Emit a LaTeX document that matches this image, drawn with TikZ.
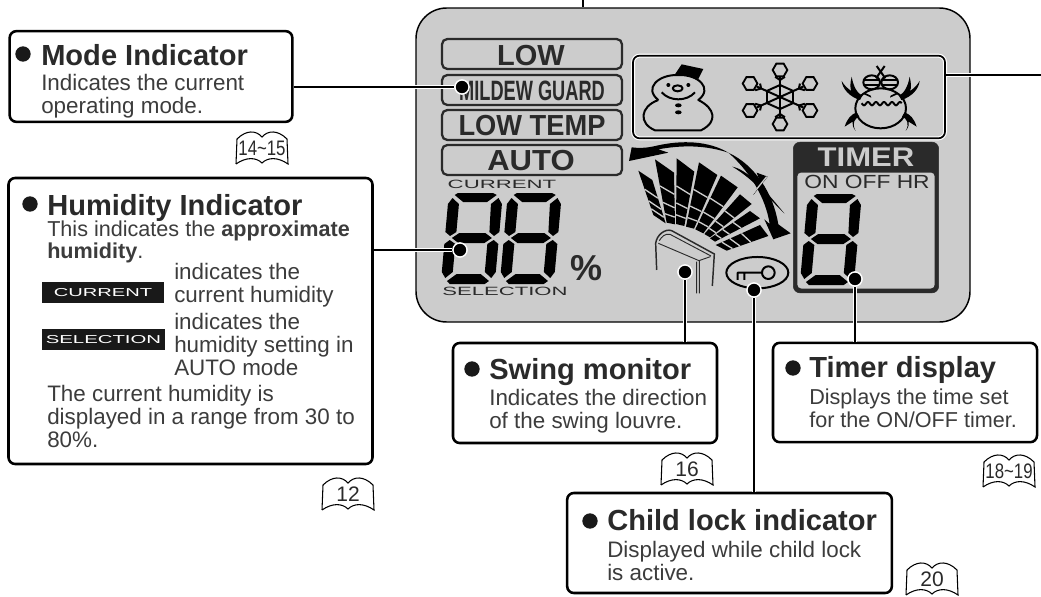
\documentclass[tikz,border=0pt]{standalone}
\usepackage{fontspec}
\setmainfont{Liberation Sans}
\usetikzlibrary{calc,shapes.geometric}
\definecolor{lcdgray}{HTML}{CCCCCC}
\definecolor{inkgray}{HTML}{2A2A2A}
\definecolor{bodygray}{HTML}{3C3C3C}
\newcommand{\fpx}[1]{\pgfmathsetmacro\fpxsize{#1*.75}\fontsize{\fpxsize}{\fpxsize}\selectfont}
\newcommand{\headfont}{\fontsize{21.8}{24}\selectfont\bfseries}
\newcommand{\bodyfont}{\fontsize{16.8}{17}\selectfont}
\newcommand{\tightfont}{\fontsize{16.2}{16}\selectfont}
\newcommand{\segdigit}[2]{%
\begin{scope}[shift={(#1,#2)},xslant=.09]
\fill (9,1)--(44,1)--(48,3)--(39,10)--(15,10)--(6,3)--cycle
 (50,6)--(54,12)--(54,40)--(49,44)--(44,40)--(43,12)--cycle
 (4,6)--(11,12)--(11,40)--(5,44)--(0,40)--(0,12)--cycle
 (7,46)--(14,41)--(40,41)--(47,46)--(40,51)--(14,51)--cycle
 (0,52)--(5,48)--(11,52)--(11,80)--(4,86)--(0,80)--cycle
 (49,48)--(54,52)--(54,80)--(50,86)--(43,80)--(43,52)--cycle
 (6,89)--(15,82)--(39,82)--(48,89)--(44,92)--(9,92)--cycle;
\end{scope}}
\newcommand{\pagemark}[5]{%
\draw[bookline] (#2,#3+33) -- (#2+1,#3+8) .. controls (#2+10,#3-1) and (#2+20,#3-1) .. (#2+26,#3+6)
 .. controls (#2+32,#3-1) and (#2+42,#3-1) .. (#2+51,#3+8) -- (#2+52,#3+33)
 .. controls (#2+42,#3+26) and (#2+32,#3+26) .. (#2+26,#3+32)
 .. controls (#2+20,#3+26) and (#2+10,#3+26) .. (#2,#3+33);
\node[booktext,xscale=#5] (#1) at (#2+26,#3+17) {#4};}
\begin{document}
\begin{tikzpicture}[x=.75pt,y=-.75pt]
\tikzset{
 panel/.style={draw, fill=white, line width=1.9pt, rounded corners=5pt, inner sep=0pt},
 modebox/.style={draw=inkgray, line width=1.7pt, rounded corners=4pt, inner sep=0pt, minimum width=135pt, minimum height=22.5pt},
 modetext/.style={font=\fpx{29}\bfseries, text=inkgray, anchor=base, inner sep=0pt},
 headtext/.style={font=\headfont, text=inkgray, anchor=base west, inner sep=0pt},
 bodytext/.style={font=\bodyfont, text=bodygray, anchor=base west, inner sep=0pt, align=left},
 tagbox/.style={fill=black!90, text=white, inner sep=0pt, minimum width=92pt, minimum height=16pt},
 wire/.style={line width=1.9pt, preaction={draw=white, line width=3.6pt}},
 tipdot/.style={circle, fill=black, draw=white, line width=1pt, minimum size=10.5pt, inner sep=0pt},
 bulletdot/.style={circle, fill=black!90, minimum size=11.5pt, inner sep=0pt},
 bookline/.style={line width=.8pt, fill=white},
 booktext/.style={font=\fpx{21}, text=inkgray, inner sep=0pt},
 fangap/.style={draw=lcdgray, line width=1pt},
 iconline/.style={line width=1.5pt, line join=round},
 flakehex/.style={regular polygon, regular polygon sides=6, draw, line width=1.4pt, minimum size=11pt, inner sep=0pt},
 lcdlabel/.style={font=\fpx{12}, text=inkgray, anchor=base, inner sep=0pt}
}
\useasboundingbox (0,0) rectangle (1041,596);
\node[draw, fill=lcdgray, line width=1.1pt, rounded corners=23pt, minimum width=415.5pt, minimum height=235.5pt, inner sep=0pt] (lcd) at (693,165) {};
\coordinate (topedge) at (583,0);
\coordinate (rightedge) at (1041,75);
\draw[line width=1.9pt] (topedge) -- (topedge |- lcd.north);

\node[modebox] (lowbox) at (532,54) {};
\node[modebox] (mildewbox) at (532,90) {};
\node[modebox] (lowtempbox) at (532,125) {};
\node[modebox] (autobox) at (532,160) {};
\node[modetext] (lowtext) at (531,65) {LOW};
\node[modetext, font=\fpx{28}\bfseries, xscale=.65] (mildewtext) at (532,100) {MILDEW GUARD};
\node[modetext, xscale=.94] (lowtemptext) at (532,135) {LOW TEMP};
\node[modetext, xscale=1.07] (autotext) at (531,170) {AUTO};

\node[lcdlabel, xscale=1.85] (currentlabel) at (502,188) {CURRENT};
\node[lcdlabel, xscale=1.84] (selectionlabel) at (505,295) {SELECTION};
\segdigit{449}{192}
\segdigit{508}{192}
\node[font=\fpx{36}\bfseries, text=inkgray, anchor=base, inner sep=0pt] (percentlabel) at (586,280) {\%};

\node[draw, line width=1.3pt, rounded corners=5pt, minimum width=234pt, minimum height=62pt, inner sep=0pt, preaction={draw=white, line width=3pt}] (iconbox) at (789,97) {};
\begin{scope}[shift={(635,55)},scale=.3333]
\fill (120,58)--(140,28)--(205,42)--(190,72) .. controls (165,62) and (140,58) .. (120,58);
\draw[iconline] (70,135) .. controls (25,100) and (70,58) .. (130,60) .. controls (190,58) and (235,100) .. (190,135)
 .. controls (240,160) and (250,200) .. (198,226) -- (60,226) .. controls (10,205) and (15,155) .. (70,135);
\draw[iconline] (80,112) .. controls (105,140) and (155,140) .. (180,112);
\draw[iconline] (128,100) ellipse (15 and 9);
\fill (100,90) circle (6) (160,90) circle (6) (130,151) ellipse (10 and 6) (130,172) ellipse (10 and 6);
\end{scope}
\begin{scope}[shift={(780,97)},xscale=1.28]
\foreach \ang in {30,90,...,330}{
 \draw[iconline] (0,0) -- (\ang:21);
 \draw[iconline] (\ang:12) -- (\ang+60:12);
 \draw[iconline] (\ang:17) -- +(\ang+50:5) (\ang:17) -- +(\ang-50:5);
 \node[flakehex, rotate=\ang+30] (flake\ang) at (\ang:27) {};
}
\end{scope}
\begin{scope}[shift={(790,55)},scale=.3333]
\foreach \s in {1,-1}{
\begin{scope}[shift={(272,0)},xscale=\s]
 \fill (-117,78) .. controls (-115,100) and (-95,125) .. (-62,135) -- (-55,122) .. controls (-70,115) and (-82,95) .. (-87,65)
  .. controls (-92,85) and (-92,100) .. (-88,108) .. controls (-100,100) and (-110,90) .. (-117,78);
 \fill (-108,215) .. controls (-100,190) and (-88,178) .. (-72,172) -- (-64,185) .. controls (-78,190) and (-88,205) .. (-75,228)
  .. controls (-85,215) and (-85,208) .. (-84,200) .. controls (-92,205) and (-100,210) .. (-108,215);
 \draw[iconline] (-12,33) -- (14,70);
 \draw[iconline] (-27,82) ellipse (25 and 21);
 \draw[iconline] (-50,76) -- (-4,76) (-50,90) -- (-4,90);
 \fill (-50,118) -- (-28,128) -- (-30,122) -- (-50,112) -- cycle;
\end{scope}}
\draw[iconline] (272,160) ellipse (76 and 60);
\draw[iconline] plot[domain=215:335, samples=60, smooth] (\x,{146+5*sin(\x*15)});
\end{scope}

\begin{scope}[shift={(625,130)},scale=.3333]
\foreach \ax/\ay/\bx/\by/\cx/\cy/\dx/\dy in {40/122/82/150/122/280/85/255, 90/88/147/128/150/283/125/278, 155/85/208/125/178/288/153/282, 222/97/277/135/207/296/183/290, 288/137/338/172/235/310/211/298, 345/193/380/222/255/322/238/312, 375/243/405/265/270/335/255/325, 405/285/430/318/305/362/272/345}{
 \fill (\ax,\ay) -- (\bx,\by) -- (\cx,\cy) -- (\dx,\dy) -- cycle;
 \foreach \f in {.42,.68,.86}
  \draw[fangap] ($(\ax,\ay)!\f!(\dx,\dy)$) -- ($(\bx,\by)!\f!(\cx,\cy)$);
}
\fill (12,93) -- (20,52) .. controls (50,56) and (75,52) .. (95,47) .. controls (170,30) and (250,32) .. (310,68)
 .. controls (240,45) and (170,45) .. (100,58) -- (130,68) -- cycle;
\fill (497,310) -- (445,328) -- (418,268) -- (434,282) .. controls (422,200) and (370,120) .. (310,68)
 .. controls (390,105) and (445,190) .. (460,283) -- cycle;
\fill (322,110) .. controls (370,120) and (420,180) .. (478,250) .. controls (440,215) and (390,150) .. (322,110);
\fill (395,128) -- (428,140) -- (385,195) -- (405,155) -- cycle;
\draw[fangap] (385,190) -- (425,140);
\draw[line width=1.1pt, color=inkgray] (95,420) -- (92,340) .. controls (95,315) and (120,295) .. (140,302) -- (268,372) -- (262,468);
\draw[line width=.7pt, color=inkgray] (103,332) .. controls (110,320) and (120,310) .. (135,313) -- (258,378) (100,340) -- (222,392) -- (256,380) (215,395) -- (215,490) (223,392) -- (223,490);
\draw[line width=1.5pt] (397,428) ellipse (93 and 47);
\draw[iconline] (430,428) circle (19) (411,428) -- (338,428) -- (338,450) (358,428) -- (358,450);
\end{scope}

\node[draw=inkgray, fill=inkgray, rounded corners=5pt, minimum width=109pt, minimum height=113pt, inner sep=0pt] (timerbox) at (866,217.5) {};
\node[fill=lcdgray, rounded corners=3pt, minimum width=103pt, minimum height=87pt, inner sep=0pt] (timerinner) at (866,230.5) {};
\node[font=\fpx{27}\bfseries, text=lcdgray, xscale=1.15, anchor=base, inner sep=0pt] (timertext) at (866,166) {TIMER};
\node[font=\fpx{19}, text=inkgray, xscale=1.2, anchor=base, inner sep=0pt] (onofftext) at (867,188) {ON OFF HR};
\segdigit{808}{193}

\node[tipdot] (modedot) at (462,87) {};
\node[tipdot] (humiddot) at (460,250) {};
\node[tipdot] (swingdot) at (685,272) {};
\node[tipdot] (lockdot) at (754,290) {};
\node[tipdot] (timerdot) at (855,279) {};

\node[panel, minimum width=212pt, minimum height=68pt] (modepanel) at (151,76.5) {};
\node[panel, minimum width=273pt, minimum height=214.5pt] (humidpanel) at (190.5,321) {};
\node[panel, minimum width=198pt, minimum height=75pt] (swingpanel) at (585,393) {};
\node[panel, minimum width=198pt, minimum height=74.5pt] (timerpanel) at (905,392.5) {};
\node[panel, minimum width=243.5pt, minimum height=75pt] (lockpanel) at (729.5,543) {};

\draw[wire] (modepanel.east |- modedot) -- (modedot);
\draw[wire] (humidpanel.east |- humiddot) -- (humiddot);
\draw[wire] (swingdot |- swingpanel.north) -- (swingdot);
\draw[wire] (lockdot |- lockpanel.north) -- (lockdot);
\draw[wire] (timerdot |- timerpanel.north) -- (timerdot);
\draw[wire] (iconbox.east |- rightedge) -- (rightedge);
\foreach \d in {modedot,humiddot,swingdot,lockdot,timerdot}
 \node[tipdot] (\d top) at (\d) {};

\node[bulletdot] (modebullet) at (23,54) {};
\node[headtext] (modehead) at (41,65) {Mode Indicator};
\node[bodytext] (modebody) at (41,113) {Indicates the current\\operating mode.};

\node[bulletdot] (humidbullet) at (30,204) {};
\node[headtext] (humidhead) at (47,215) {Humidity Indicator};
\node[bodytext, font=\tightfont] (humidbody) at (47,258) {This indicates the \textbf{approximate}\\\textbf{humidity}.};
\node[bodytext] (currentbody) at (174,302) {indicates the\\current humidity};
\node[tagbox] (currenttag) at (103,292.5) {};
\node[font=\fpx{11.5}, text=white, xscale=1.75, inner sep=0pt] (currenttext) at (103,292.5) {CURRENT};
\node[bodytext] (selectbody) at (174,375) {indicates the\\humidity setting in\\AUTO mode};
\node[tagbox] (selecttag) at (103.5,339.5) {};
\node[font=\fpx{11.5}, text=white, xscale=1.77, inner sep=0pt] (selecttext) at (103.5,339.5) {SELECTION};
\node[bodytext] (rangebody) at (47,447) {The current humidity is\\displayed in a range from 30 to\\80\%.};

\node[bulletdot] (swingbullet) at (472,369) {};
\node[headtext] (swinghead) at (489,379) {Swing monitor};
\node[bodytext] (swingbody) at (489,428) {Indicates the direction\\of the swing louvre.};

\node[bulletdot] (timerbullet) at (793,368) {};
\node[headtext] (timerhead) at (809,377) {Timer display};
\node[bodytext, font=\tightfont, align=left] (timerbody) at (809,427) {Displays the time set\\[1pt]for the ON/OFF timer.};

\node[bulletdot] (lockbullet) at (590,521) {};
\node[headtext] (lockhead) at (607,530) {Child lock indicator};
\node[bodytext] (lockbody) at (607,580) {Displayed while child lock\\is active.};

\pagemark{bookmode}{236}{131}{14\char`\~15}{.8}
\pagemark{bookhumid}{322}{477}{12}{1}
\pagemark{bookswing}{661}{452}{16}{1}
\pagemark{booktimer}{983}{454}{18\char`\~19}{.8}
\pagemark{booklock}{906}{562}{20}{1}
\end{tikzpicture}
\end{document}
